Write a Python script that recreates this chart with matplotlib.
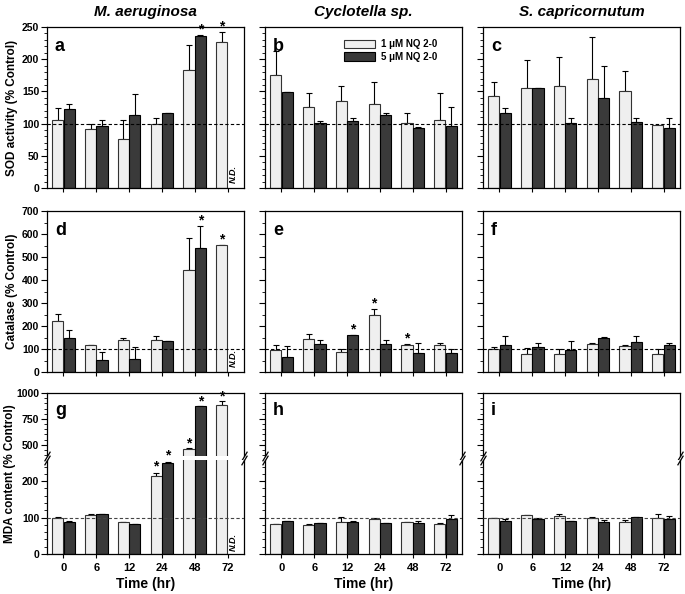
import numpy as np
import matplotlib
matplotlib.use("Agg")
import matplotlib.pyplot as plt
from matplotlib.ticker import MultipleLocator

plt.rcParams['font.family'] = ['Liberation Sans', 'DejaVu Sans']
plt.rcParams['font.weight'] = 'bold'

# Data
times = ['0', '6', '12', '24', '48', '72']
species = ['M. aeruginosa', 'Cyclotella sp.', 'S. capricornutum']
ylabels = ['SOD activity (% Control)', 'Catalase (% Control)', 'MDA content (% Control)']
letters = ['a', 'b', 'c', 'd', 'e', 'f', 'g', 'h', 'i']

# SOD (row 1): mean and upper error-bar top for 1 uM / 5 uM
sod_a_1 = [105, 91, 76, 99, 183, 226]
sod_a_1e = [125, 99, 105, 108, 222, 242]
sod_a_5 = [122, 97, 114, 116, 236, np.nan]
sod_a_5e = [131, 106, 146, 117, 238, np.nan]
sod_b_1 = [175, 126, 135, 131, 101, 105]
sod_b_1e = [212, 147, 158, 164, 117, 147]
sod_b_5 = [149, 101, 104, 113, 93, 96]
sod_b_5e = [149, 104, 108, 117, 95, 126]
sod_c_1 = [143, 156, 158, 170, 150, 98]
sod_c_1e = [164, 198, 203, 234, 182, 98]
sod_c_5 = [116, 155, 101, 140, 103, 93]
sod_c_5e = [124, 155, 108, 190, 108, 109]

# Catalase (row 2)
cat_d_1 = [222, 118, 137, 140, 445, 551]
cat_d_1e = [254, 118, 148, 155, 583, 551]
cat_d_5 = [150, 51, 55, 133, 540, np.nan]
cat_d_5e = [181, 88, 108, 135, 633, np.nan]
cat_e_1 = [95, 145, 88, 246, 119, 116]
cat_e_1e = [119, 167, 101, 275, 120, 128]
cat_e_5 = [65, 123, 159, 123, 83, 83]
cat_e_5e = [113, 138, 162, 141, 126, 101]
cat_f_1 = [99, 80, 80, 120, 115, 77]
cat_f_1e = [109, 104, 101, 128, 119, 100]
cat_f_5 = [116, 109, 97, 148, 129, 116]
cat_f_5e = [155, 126, 133, 152, 158, 128]

# MDA (row 3)
mda_g_1 = [100, 108, 87, 215, 461, 882]
mda_g_1e = [101, 109, 88, 222, 467, 921]
mda_g_5 = [87, 110, 82, 249, 876, np.nan]
mda_g_5e = [90, 110, 83, 252, 878, np.nan]
mda_h_1 = [82, 80, 89, 97, 89, 83]
mda_h_1e = [83, 81, 102, 100, 89, 84]
mda_h_5 = [90, 85, 87, 85, 85, 97]
mda_h_5e = [91, 85, 91, 86, 90, 108]
mda_i_1 = [100, 108, 104, 99, 89, 99]
mda_i_1e = [100, 108, 110, 102, 94, 110]
mda_i_5 = [91, 97, 90, 87, 102, 96]
mda_i_5e = [97, 100, 90, 94, 102, 103]

# significance stars: (panel, series, time index)
stars = [('a', 5, 4), ('a', 1, 5), ('d', 5, 4), ('d', 1, 5),
         ('e', 5, 2), ('e', 1, 3), ('e', 1, 4),
         ('g', 1, 3), ('g', 5, 3), ('g', 1, 4), ('g', 5, 4), ('g', 1, 5)]
nd_panels = ['a', 'd', 'g']

panels = {
    'a': (sod_a_1, sod_a_1e, sod_a_5, sod_a_5e),
    'b': (sod_b_1, sod_b_1e, sod_b_5, sod_b_5e),
    'c': (sod_c_1, sod_c_1e, sod_c_5, sod_c_5e),
    'd': (cat_d_1, cat_d_1e, cat_d_5, cat_d_5e),
    'e': (cat_e_1, cat_e_1e, cat_e_5, cat_e_5e),
    'f': (cat_f_1, cat_f_1e, cat_f_5, cat_f_5e),
    'g': (mda_g_1, mda_g_1e, mda_g_5, mda_g_5e),
    'h': (mda_h_1, mda_h_1e, mda_h_5, mda_h_5e),
    'i': (mda_i_1, mda_i_1e, mda_i_5, mda_i_5e),
}

W, H = 685, 594
fig = plt.figure(figsize=(W / 100, H / 100), dpi=100)

col_x = [47, 265, 483]
col_w = 197
row_top = [27, 211, 393]
row_h = 161

light = '#efefef'
dark = '#3a3a3a'
bw = 0.34
off = 0.175
x = np.arange(len(times))


def px_axes(left, top, w, h):
    return fig.add_axes([left / W, (H - top - h) / H, w / W, h / H])


def style(ax):
    ax.tick_params(axis='y', which='major', direction='out', length=4, width=0.8, labelsize=7.5, pad=1.5)
    ax.tick_params(axis='y', which='minor', direction='out', length=2, width=0.6)
    ax.tick_params(axis='x', direction='out', length=3, width=0.8, labelsize=8)
    for s in ax.spines.values():
        s.set_linewidth(0.9)
    ax.set_xlim(-0.5, len(times) - 0.5)
    ax.set_xticks(x)


def draw_bars(ax, d):
    m1, e1, m5, e5 = [np.array(v, dtype=float) for v in d]
    ok5 = ~np.isnan(m5)
    ax.bar(x - off, m1, bw, color=light, edgecolor='#333333', linewidth=0.8, zorder=2)
    ax.bar(x[ok5] + off, m5[ok5], bw, color=dark, edgecolor='black', linewidth=0.8, zorder=2)
    ax.errorbar(x - off, m1, yerr=[np.zeros(len(m1)), e1 - m1], fmt='none',
                ecolor='black', elinewidth=0.8, capsize=2.2, capthick=0.8, zorder=1)
    ax.errorbar(x[ok5] + off, m5[ok5], yerr=[np.zeros(ok5.sum()), (e5 - m5)[ok5]], fmt='none',
                ecolor='black', elinewidth=0.8, capsize=2.2, capthick=0.8, zorder=1)


def star(ax, xpos, ytop, dy):
    ax.text(xpos, ytop + dy, '*', ha='center', va='center', fontsize=10, fontweight='bold', zorder=5)


for r in range(3):
    for c in range(3):
        key = letters[r * 3 + c]
        d = panels[key]
        left = col_x[c]
        if r < 2:
            ax = px_axes(left, row_top[r], col_w, row_h)
            style(ax)
            draw_bars(ax, d)
            top = 250 if r == 0 else 700
            ax.set_ylim(0, top)
            ax.yaxis.set_major_locator(MultipleLocator(50 if r == 0 else 100))
            ax.yaxis.set_minor_locator(MultipleLocator(10 if r == 0 else 50))
            ax.axhline(100, color='black', lw=0.8, ls=(0, (3, 2)), zorder=3)
            ax.set_xticklabels([])
            ax.text(0.04, 0.93, key, transform=ax.transAxes, fontsize=13, fontweight='bold', va='top')
            dy = top * 0.035
            for p, s, i in stars:
                if p == key:
                    vals = d[1] if s == 1 else d[3]
                    star(ax, i - off if s == 1 else i + off, vals[i], dy)
            if key in nd_panels:
                ax.text(5 + off, top * 0.03, 'N.D.', rotation=90, ha='center', va='bottom',
                        fontsize=6.5, fontweight='bold', style='italic')
            if c == 0:
                ax.set_ylabel(ylabels[r], fontsize=8.5, fontweight='bold', labelpad=3)
            else:
                ax.set_yticklabels([])
            if r == 0:
                ax.set_title(species[c], fontsize=11, fontweight='bold', style='italic', pad=8)
            if key == 'b':
                from matplotlib.patches import Patch
                hs = [Patch(facecolor=light, edgecolor='#333333', linewidth=0.8),
                      Patch(facecolor=dark, edgecolor='black', linewidth=0.8)]
                ax.legend(hs, ['1 \u03bcM NQ 2-0', '5 \u03bcM NQ 2-0'], loc='upper right',
                          bbox_to_anchor=(0.92, 0.98), frameon=False, fontsize=7,
                          handlelength=3.2, handleheight=0.9, handletextpad=0.6,
                          labelspacing=0.3, prop={'weight': 'bold', 'size': 7})
        else:
            up_h, low_top = 63, 460
            axu = px_axes(left, row_top[r], col_w, up_h)
            axl = px_axes(left, low_top, col_w, row_top[r] + row_h - low_top)
            for ax in (axu, axl):
                style(ax)
                draw_bars(ax, d)
            axu.set_ylim(392, 1000)
            axl.set_ylim(0, 258)
            axu.yaxis.set_major_locator(MultipleLocator(250))
            axu.yaxis.set_minor_locator(MultipleLocator(50))
            axl.yaxis.set_major_locator(MultipleLocator(100))
            axl.yaxis.set_minor_locator(MultipleLocator(20))
            axu.spines['bottom'].set_visible(False)
            axl.spines['top'].set_visible(False)
            axu.tick_params(axis='x', bottom=False, labelbottom=False)
            axl.axhline(100, color='#444444', lw=0.8, ls=(0, (3, 2)), zorder=3)
            axl.set_xticklabels(times)
            axl.set_xlabel('Time (hr)', fontsize=10, fontweight='bold', labelpad=3)
            axu.text(0.04, 0.85, key, transform=axu.transAxes, fontsize=13, fontweight='bold', va='top')
            for p, s, i in stars:
                if p == key:
                    vals = d[1] if s == 1 else d[3]
                    v = vals[i]
                    tgt = axu if v > 300 else axl
                    span = 608 if v > 300 else 258
                    star(tgt, i - off if s == 1 else i + off, v, span * 0.07)
            if key in nd_panels:
                axl.text(5 + off, 8, 'N.D.', rotation=90, ha='center', va='bottom',
                         fontsize=6.5, fontweight='bold', style='italic')
            if c == 0:
                axl.set_ylabel(ylabels[r], fontsize=8.5, fontweight='bold', labelpad=3)
                axl.yaxis.set_label_coords(-0.155, 0.85, transform=axl.transAxes)
            else:
                axu.set_yticklabels([])
                axl.set_yticklabels([])
            # break marks
            kw = dict(marker=[(-0.6, -1), (0.6, 1)], markersize=7, linestyle='none',
                      color='k', mec='k', mew=0.9, clip_on=False)
            axu.plot([0, 1], [0, 0], transform=axu.transAxes, **kw)
            axl.plot([0, 1], [1, 1], transform=axl.transAxes, **kw)

fig.savefig('out.png', dpi=100)
